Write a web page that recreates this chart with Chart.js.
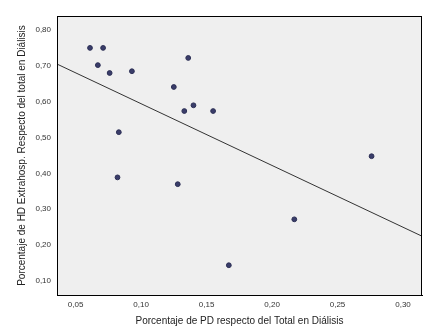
<!DOCTYPE html>
<html>
<head>
<meta charset="utf-8">
<script src="https://cdn.jsdelivr.net/npm/chart.js@4"></script>
<style>
  body { margin: 0; background: #fff; }
  #wrap { width: 442px; height: 327px; }
</style>
</head>
<body>
<div id="wrap"><canvas id="scatter"></canvas></div>
<script>
// PD share (x) vs HD extrahosp share (y)
const pdShare = [0.061, 0.071, 0.067, 0.076, 0.093, 0.083, 0.082, 0.136, 0.125, 0.133, 0.140, 0.155, 0.276, 0.128, 0.217, 0.167];
const hdShare = [0.750, 0.750, 0.702, 0.680, 0.685, 0.515, 0.389, 0.722, 0.641, 0.574, 0.590, 0.574, 0.448, 0.370, 0.272, 0.144];

// fit line endpoints as drawn in the reference
const fitX = [0.0358, 0.3145];
const fitY = [0.705, 0.225];

const xTicks = [0.05, 0.10, 0.15, 0.20, 0.25, 0.30];
const yTicks = [0.10, 0.20, 0.30, 0.40, 0.50, 0.60, 0.70, 0.80];

const points = pdShare.map((x, i) => ({ x: x, y: hdShare[i] }));
const fitPoints = fitX.map((x, i) => ({ x: x, y: fitY[i] }));

const fmt = v => v.toFixed(2).replace('.', ',');

// gray plot area plus a full frame
const plotFrame = {
    id: 'plotFrame',
    beforeDraw(chart) {
        const { ctx, chartArea: a } = chart;
        ctx.save();
        ctx.fillStyle = '#efefef';
        ctx.fillRect(a.left, a.top, a.right - a.left, a.bottom - a.top);
        ctx.restore();
    },
    afterDraw(chart) {
        const { ctx, chartArea: a } = chart;
        ctx.save();
        ctx.strokeStyle = '#000';
        ctx.lineWidth = 1;
        ctx.strokeRect(a.left + 0.5, a.top + 0.5, a.right - a.left - 1, a.bottom - a.top);
        ctx.restore();
    }
};

new Chart(document.getElementById('scatter'), {
    type: 'scatter',
    data: {
        datasets: [{
            data: points,
            backgroundColor: '#3a3d6a',
            borderColor: '#2c2f55',
            borderWidth: 1,
            pointRadius: 2.4
        }, {
            type: 'line',
            data: fitPoints,
            borderColor: '#333',
            borderWidth: 1,
            pointRadius: 0,
            fill: false
        }]
    },
    options: {
        responsive: true,
        maintainAspectRatio: false,
        animation: false,
        layout: { padding: { top: 16, right: 20, left: 0, bottom: 0 } },
        plugins: { legend: { display: false }, tooltip: { enabled: false } },
        scales: {
            x: {
                type: 'linear',
                min: 0.0358,
                max: 0.3145,
                afterBuildTicks: s => { s.ticks = xTicks.map(v => ({ value: v })); },
                afterFit: s => { s.height = 32; },
                grid: { display: false, drawOnChartArea: false, tickLength: 3 },
                border: { display: true, color: '#000' },
                ticks: { callback: v => fmt(v), color: '#333', font: { family: 'Liberation Sans', size: 8 }, padding: 2, maxRotation: 0 },
                title: { display: true, text: 'Porcentaje de PD respecto del Total en Diálisis', color: '#222', font: { family: 'Liberation Sans', size: 10 }, padding: { top: 1, bottom: 0 } }
            },
            y: {
                min: 0.061,
                max: 0.839,
                afterBuildTicks: s => { s.ticks = yTicks.map(v => ({ value: v })); },
                afterFit: s => { s.width = 57; },
                grid: { display: false, drawOnChartArea: false, tickLength: 4 },
                border: { display: true, color: '#000' },
                ticks: { callback: v => fmt(v), color: '#333', font: { family: 'Liberation Sans', size: 8 }, padding: 2 },
                title: { display: true, text: 'Porcentaje de HD Extrahosp. Respecto del total en Diálisis', color: '#222', font: { family: 'Liberation Sans', size: 10 }, padding: { top: 16, bottom: 4 } }
            }
        }
    },
    plugins: [plotFrame]
});
</script>
</body>
</html>
